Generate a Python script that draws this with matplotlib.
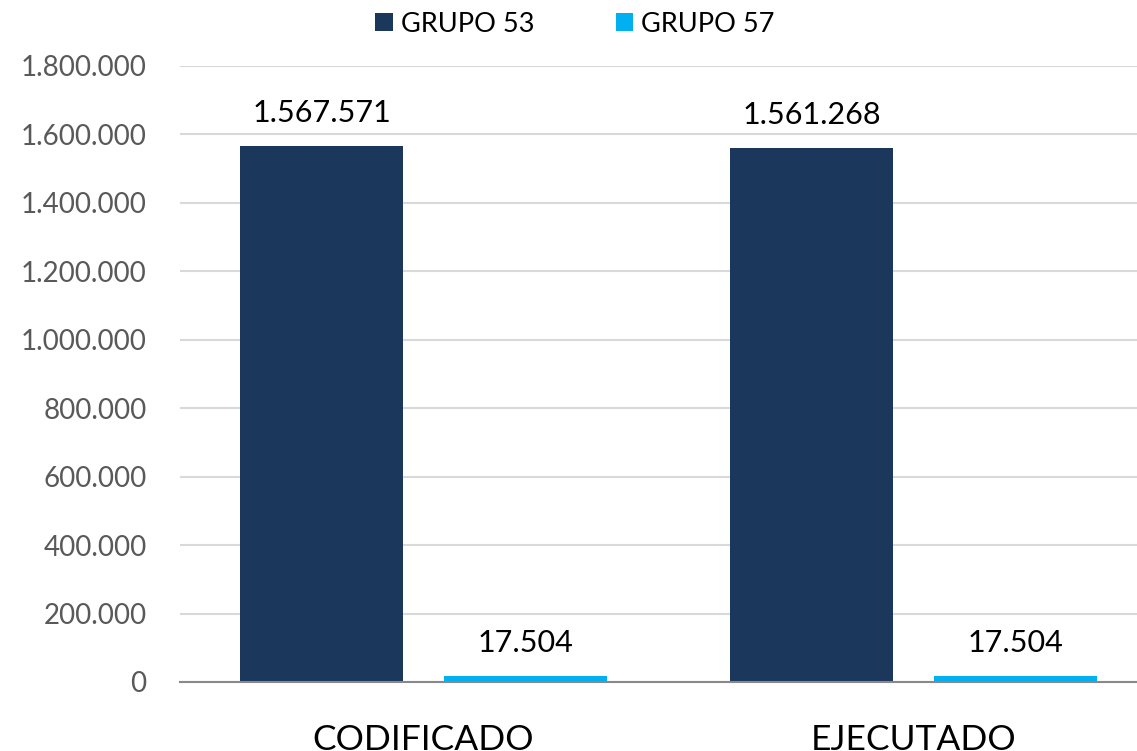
import matplotlib
matplotlib.use("Agg")
import matplotlib.pyplot as plt
import numpy as np

categories = ["CODIFICADO", "EJECUTADO"]
series_names = ["GRUPO 53", "GRUPO 57"]
grupo53 = [1567571, 1561268]
grupo57 = [17504, 17504]
yticks = [0, 200000, 400000, 600000, 800000, 1000000, 1200000, 1400000, 1600000, 1800000]

colors = ["#1B375C", "#00B0F0"]

def fmt(v):
    return f"{v:,}".replace(",", ".")

plt.rcParams['font.family'] = ['Lato', 'DejaVu Sans']

W, H = 1137, 751
fig = plt.figure(figsize=(W / 100, H / 100), dpi=100)
left, right, top, bottom = 180, 1137, 66, 682
ax = fig.add_axes([left / W, (H - bottom) / H, (right - left) / W, (bottom - top) / H])

x = np.arange(len(categories))
bw = 0.333
off = 0.208
vals = [grupo53, grupo57]
for i, (name, v) in enumerate(zip(series_names, vals)):
    pos = x + (-off if i == 0 else off)
    ax.bar(pos, v, width=bw, color=colors[i], label=name, zorder=3)
    for p, val in zip(pos, v):
        ax.text(p, val + 55000, fmt(val), ha="center", va="bottom", fontsize=22, color="black")

unit = 490.0
ax.set_xlim(-243.5 / unit, 1 + (1137 - 913.5) / unit)
ax.set_ylim(0, 1800000)
ax.set_yticks(yticks)
ax.set_yticklabels([fmt(t) for t in yticks], fontsize=20, color="#595959")
ax.set_xticks(x)
ax.set_xticklabels(categories, fontsize=25.5, color="black")
ax.tick_params(axis="both", length=0)
ax.tick_params(axis="y", pad=24)
ax.tick_params(axis="x", pad=30)
ax.grid(axis="y", color="#D9D9D9", linewidth=1.5, zorder=0)
for s in ["top", "right", "left"]:
    ax.spines[s].set_visible(False)
ax.spines["bottom"].set_color("#898989")
ax.spines["bottom"].set_linewidth(1.5)
ax.spines["bottom"].set_zorder(4)

leg = fig.legend(loc="center", bbox_to_anchor=(575 / W, 1 - 24 / H), ncol=2, frameon=False,
                 fontsize=19.5, handlelength=0.65, handleheight=0.65, handletextpad=0.3, columnspacing=3.0)

fig.savefig("out.png", dpi=100)
